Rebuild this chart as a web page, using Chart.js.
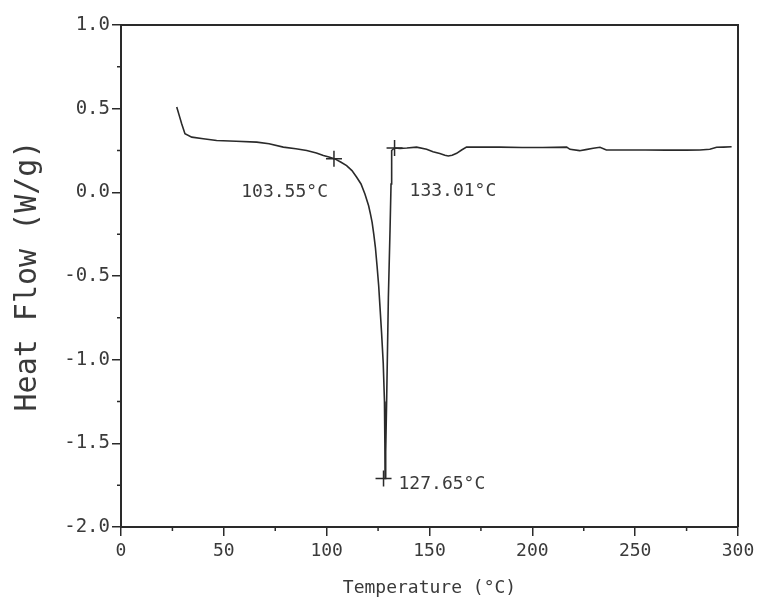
<!DOCTYPE html>
<html>
<head>
<meta charset="utf-8">
<script src="https://cdn.jsdelivr.net/npm/chart.js@4.4.0/dist/chart.umd.min.js"></script>
<style>
  html, body { margin: 0; padding: 0; background: #ffffff; }
  canvas { display: block; }
</style>
</head>
<body>
<canvas id="c" width="762" height="605"></canvas>
<script>
// ---- data ----
const temps = [27.1, 28.3, 29.5, 31.1, 34.4, 40, 46.5, 56, 66, 72, 78.9, 85, 90.3, 95, 98.4, 101.5, 104, 107, 109.7, 112.3, 114.6, 116.7, 118.6, 120.4, 121.3, 122.1, 122.9, 123.7, 124.5, 125.3, 125.9, 126.7, 127.5, 128.1, 128.3, 128.4, 128.7, 129.2, 130, 130.8, 131.3, 131.6, 133, 135.6, 139, 143.7, 148.6, 151.7, 155, 157.5, 159.1, 161, 163.2, 165.6, 168, 175, 184, 195, 205, 216.7, 218.3, 223, 226, 229.6, 232.9, 236, 245, 255, 265, 275, 281.5, 286.3, 289.6, 293, 296.9];
const heatFlow = [0.51, 0.46, 0.41, 0.35, 0.33, 0.32, 0.31, 0.305, 0.30, 0.29, 0.27, 0.26, 0.25, 0.235, 0.22, 0.21, 0.20, 0.18, 0.16, 0.13, 0.09, 0.05, -0.01, -0.08, -0.13, -0.18, -0.25, -0.33, -0.44, -0.56, -0.68, -0.84, -1.02, -1.25, -1.5, -1.71, -1.55, -1.22, -0.63, -0.23, 0.05, 0.25, 0.265, 0.263, 0.265, 0.27, 0.258, 0.243, 0.232, 0.222, 0.217, 0.222, 0.233, 0.253, 0.27, 0.27, 0.27, 0.268, 0.268, 0.27, 0.257, 0.249, 0.255, 0.263, 0.269, 0.253, 0.253, 0.253, 0.252, 0.252, 0.253, 0.257, 0.269, 0.27, 0.272];

const markerTemps = [103.55, 127.65, 133.01];
const markerFlow = [0.20, -1.71, 0.265];
const markerLabels = ['103.55°C', '127.65°C', '133.01°C'];

const xTickValues = [0, 50, 100, 150, 200, 250, 300];
const yTickValues = [1.0, 0.5, 0.0, -0.5, -1.0, -1.5, -2.0];
const xTitle = 'Temperature (°C)';
const yTitle = 'Heat Flow (W/g)';

// ---- styling ----
const MONO = "'DejaVu Sans Mono', 'Liberation Mono', monospace";
const INK = '#2a2a2a';
const TEXT = '#3a3a3a';
const labelPlacement = [
  { dx: -6, dy: 33, align: 'right' },
  { dx: 15, dy: 6, align: 'left' },
  { dx: 15, dy: 43, align: 'left' }
];

const curve = temps.map((t, i) => ({ x: t, y: heatFlow[i] }));
const markers = markerTemps.map((t, i) => ({ x: t, y: markerFlow[i] }));

const framePlugin = {
  id: 'frame',
  afterDraw(chart) {
    const { ctx, chartArea: a, scales: { x, y } } = chart;
    ctx.save();
    ctx.strokeStyle = INK;
    ctx.lineWidth = 2;
    ctx.beginPath();
    ctx.moveTo(a.left, a.top);
    ctx.lineTo(a.right, a.top);
    ctx.lineTo(a.right, a.bottom);
    ctx.stroke();
    ctx.lineWidth = 1.5;
    ctx.beginPath();
    for (let v = 25; v < 300; v += 50) {
      const px = x.getPixelForValue(v);
      ctx.moveTo(px, a.bottom);
      ctx.lineTo(px, a.bottom + 4);
    }
    for (let v = 0.75; v > -2; v -= 0.5) {
      const py = y.getPixelForValue(v);
      ctx.moveTo(a.left - 4, py);
      ctx.lineTo(a.left, py);
    }
    ctx.stroke();
    ctx.fillStyle = TEXT;
    ctx.font = '18px ' + MONO;
    ctx.textBaseline = 'middle';
    markerLabels.forEach((txt, i) => {
      const px = x.getPixelForValue(markerTemps[i]);
      const py = y.getPixelForValue(markerFlow[i]);
      const p = labelPlacement[i];
      ctx.textAlign = p.align;
      ctx.fillText(txt, px + p.dx, py + p.dy);
    });
    ctx.restore();
  }
};

new Chart(document.getElementById('c'), {
  type: 'scatter',
  data: {
    datasets: [
      {
        label: 'Heat flow',
        data: curve,
        showLine: true,
        borderColor: INK,
        borderWidth: 1.6,
        pointRadius: 0,
        tension: 0,
        fill: false
      },
      {
        label: 'Markers',
        data: markers,
        showLine: false,
        pointStyle: 'cross',
        pointRadius: 8,
        borderColor: INK,
        borderWidth: 1.5
      }
    ]
  },
  options: {
    responsive: false,
    animation: false,
    devicePixelRatio: 1,
    layout: { padding: { left: 0, right: 24, top: 25, bottom: 0 } },
    plugins: { legend: { display: false }, tooltip: { enabled: false } },
    scales: {
      x: {
        type: 'linear',
        min: 0,
        max: 300,
        afterBuildTicks: s => { s.ticks = xTickValues.map(v => ({ value: v })); },
        afterFit: s => { s.height = 78; },
        border: { display: true, color: INK, width: 2 },
        grid: { drawOnChartArea: false, drawTicks: true, tickLength: 9, color: INK, lineWidth: 1.5 },
        ticks: {
          color: TEXT,
          font: { family: MONO, size: 18 },
          padding: 5,
          maxRotation: 0,
          autoSkip: false,
          callback: v => String(v)
        },
        title: {
          display: true,
          text: xTitle,
          color: TEXT,
          font: { family: MONO, size: 18 },
          padding: { top: 0, bottom: 6 }
        }
      },
      y: {
        type: 'linear',
        min: -2,
        max: 1,
        afterBuildTicks: s => { s.ticks = yTickValues.map(v => ({ value: v })); },
        afterFit: s => { s.width = 121; },
        border: { display: true, color: INK, width: 2 },
        grid: { drawOnChartArea: false, drawTicks: true, tickLength: 9, color: INK, lineWidth: 1.5 },
        ticks: {
          color: TEXT,
          font: { family: MONO, size: 19 },
          padding: 2,
          autoSkip: false,
          callback: v => Number(v).toFixed(1)
        },
        title: {
          display: true,
          text: yTitle,
          color: TEXT,
          font: { family: MONO, size: 30 },
          padding: { top: 10, bottom: 0 }
        }
      }
    }
  },
  plugins: [framePlugin]
});
</script>
</body>
</html>
